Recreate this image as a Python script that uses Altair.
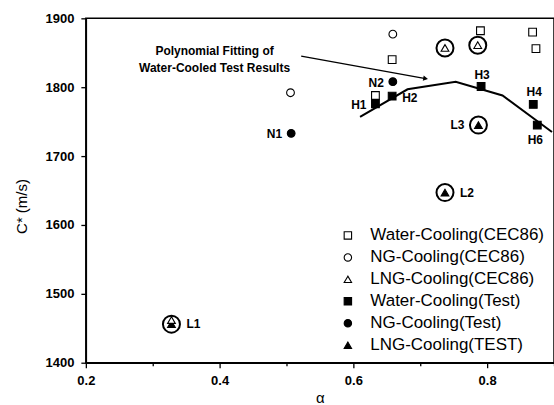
import altair as alt
import pandas as pd

# ---------------- data ----------------
series_order = [
    "Water-Cooling(CEC86)", "NG-Cooling(CEC86)", "LNG-Cooling(CEC86)",
    "Water-Cooling(Test)", "NG-Cooling(Test)", "LNG-Cooling(TEST)",
]

water_cec_x = [0.790, 0.868, 0.873, 0.658, 0.633]
water_cec_y = [1882, 1880, 1856, 1840, 1788]

ng_cec_x = [0.659, 0.506]
ng_cec_y = [1877, 1792]

lng_cec_x = [0.737, 0.786, 0.328]
lng_cec_y = [1857, 1861, 1462]

water_test_names = ["H1", "H2", "H3", "H4", "H6"]
water_test_x = [0.633, 0.658, 0.791, 0.869, 0.875]
water_test_y = [1776, 1787, 1801, 1775, 1745]

ng_test_names = ["N1", "N2"]
ng_test_x = [0.507, 0.659]
ng_test_y = [1733, 1808]

lng_test_names = ["L1", "L2", "L3"]
lng_test_x = [0.328, 0.737, 0.787]
lng_test_y = [1456, 1647, 1745]

fit_x = [0.610, 0.681, 0.753, 0.823, 0.897]
fit_y = [1757, 1797, 1808, 1788, 1735]

arrow_x = [0.522, 0.708]
arrow_y = [1845, 1812.6]

note_x = [0.3925]
note_y = [1853]
note_text = ["Polynomial Fitting of\nWater-Cooled Test Results"]

# label placement for each named test point
label_names = water_test_names + ng_test_names + lng_test_names
label_x = water_test_x + ng_test_x + lng_test_x
label_y = water_test_y + ng_test_y + lng_test_y
label_side = ["left", "right", "above", "above", "below",
              "left", "left",
              "ring_right", "ring_right", "ring_left"]

# ---------------- tables ----------------
rows = []
for sx, sy, name in [(water_cec_x, water_cec_y, series_order[0]),
                     (ng_cec_x, ng_cec_y, series_order[1]),
                     (lng_test_x, lng_test_y, series_order[5]),
                     (lng_cec_x, lng_cec_y, series_order[2]),
                     (water_test_x, water_test_y, series_order[3]),
                     (ng_test_x, ng_test_y, series_order[4])]:
    for a, c in zip(sx, sy):
        rows.append({"alpha": a, "c": c, "series": name})
pts = pd.DataFrame(rows)

rings = pd.DataFrame({"alpha": lng_cec_x[:2] + lng_test_x,
                      "c": lng_cec_y[:2] + lng_test_y})
fit = pd.DataFrame({"alpha": fit_x, "c": fit_y, "i": range(len(fit_x))})
arrow = pd.DataFrame({"x": [arrow_x[0]], "y": [arrow_y[0]],
                      "x2": [arrow_x[1]], "y2": [arrow_y[1]]})
head = pd.DataFrame({"alpha": [arrow_x[1]], "c": [arrow_y[1]]})
note = pd.DataFrame({"alpha": note_x, "c": note_y, "t": note_text})
labels = pd.DataFrame({"alpha": label_x, "c": label_y, "t": label_names,
                       "side": label_side})

FONT = "Liberation Sans"

x_scale = alt.Scale(domain=[0.2, 0.9], nice=False, zero=False)
y_scale = alt.Scale(domain=[1400, 1900], nice=False, zero=False)

x_axis = alt.Axis(
    values=[0.2, 0.3, 0.4, 0.5, 0.6, 0.7, 0.8, 0.9],
    labelExpr="round(datum.value*10) % 2 == 0 ? format(datum.value, '.1f') : ''",
    tickSize={"condition": {"test": "round(datum.value*10) % 2 == 0", "value": 5}, "value": 3},
    grid=False, title="α", titleFont=FONT, titleFontSize=15, titleFontWeight="normal",
    titleY=35, titleBaseline="middle",
    labelFont=FONT, labelFontSize=13, labelFontWeight="bold", labelPadding=7,
    labelColor="black", tickColor="black", domainColor="black",
    domainWidth=1.5, tickWidth=1.3, labelFlush=False,
)
y_axis = alt.Axis(
    values=list(range(1400, 1901, 50)),
    labelExpr="datum.value % 100 == 0 ? datum.value : ''",
    tickSize={"condition": {"test": "datum.value % 100 == 0", "value": 5}, "value": 3},
    grid=False, title="C* (m/s)", titleFont=FONT, titleFontSize=15,
    titleFontWeight="normal", titleX=-64, titleY=188, titleAngle=270,
    titleAlign="center", titleBaseline="middle",
    labelFont=FONT, labelFontSize=13, labelFontWeight="bold", labelPadding=7,
    labelColor="black", tickColor="black", domainColor="black",
    domainWidth=1.5, tickWidth=1.3, labelFlush=False,
)

X = alt.X("alpha:Q", scale=x_scale, axis=x_axis)
Y = alt.Y("c:Q", scale=y_scale, axis=y_axis)

legend = alt.Legend(orient="bottom-right", offset=9,
                    labelFont=FONT, labelFontSize=17, labelColor="black",
                    symbolSize=55, symbolStrokeColor="black",
                    symbolStrokeWidth=1.1, rowPadding=4, labelOffset=14,
                    symbolOpacity=1, labelLimit=300)

points = alt.Chart(pts).mark_point(strokeWidth=1.1, opacity=1, size=60).encode(
    x=X, y=Y,
    shape=alt.Shape("series:N", title="", scale=alt.Scale(
        domain=series_order,
        range=["square", "circle", "triangle-up", "square", "circle", "triangle-up"]),
        legend=legend),
    fill=alt.Fill("series:N", title="", scale=alt.Scale(
        domain=series_order,
        range=["white", "white", "white", "black", "black", "black"]),
        legend=legend),
    stroke=alt.Stroke("series:N", title="", scale=alt.Scale(
        domain=series_order,
        range=["black", "black", "black", "black", "black", "black"]),
        legend=legend),
)

ring_layer = alt.Chart(rings).mark_point(shape="circle", filled=False,
                                         stroke="black", strokeWidth=2,
                                         size=290, opacity=1).encode(x=X, y=Y)

fit_layer = alt.Chart(fit).mark_line(color="black", strokeWidth=2).encode(
    x=X, y=Y, order="i:Q")

arrow_layer = alt.Chart(arrow).mark_rule(color="black", strokeWidth=1.3).encode(
    x="x:Q", y="y:Q", x2="x2:Q", y2="y2:Q")
head_layer = alt.Chart(head).mark_point(shape="triangle-right", filled=True,
                                        color="black", size=30, angle=10,
                                        opacity=1).encode(x=X, y=Y)

note_layer = alt.Chart(note).mark_text(font=FONT, fontSize=12, fontWeight="bold",
                                       lineBreak="\n", lineHeight=17,
                                       align="center", baseline="middle",
                                       color="black").encode(x=X, y=Y, text="t:N")

side_style = {
    "left": dict(align="right", dx=-9, dy=1),
    "right": dict(align="left", dx=10, dy=2),
    "above": dict(align="center", dx=1, dy=-12),
    "below": dict(align="center", dx=-2, dy=15),
    "ring_right": dict(align="left", dx=15, dy=0),
    "ring_left": dict(align="right", dx=-14, dy=0),
}
label_layers = []
for side, st in side_style.items():
    label_layers.append(
        alt.Chart(labels).transform_filter(alt.datum.side == side).mark_text(
            font=FONT, fontSize=12, fontWeight="bold", baseline="middle",
            color="black", **st).encode(x=X, y=Y, text="t:N"))

chart = alt.layer(
    fit_layer, arrow_layer, head_layer, points, ring_layer, note_layer,
    *label_layers
).properties(
    width=469, height=345,
    autosize=alt.AutoSizeParams(type="none"),
    padding={"left": 86, "top": 18, "right": 0, "bottom": 42},
    background="white",
).configure_view(stroke="black", strokeWidth=1.5)

chart.save("out.html", embed_options={"renderer": "svg", "actions": False})
